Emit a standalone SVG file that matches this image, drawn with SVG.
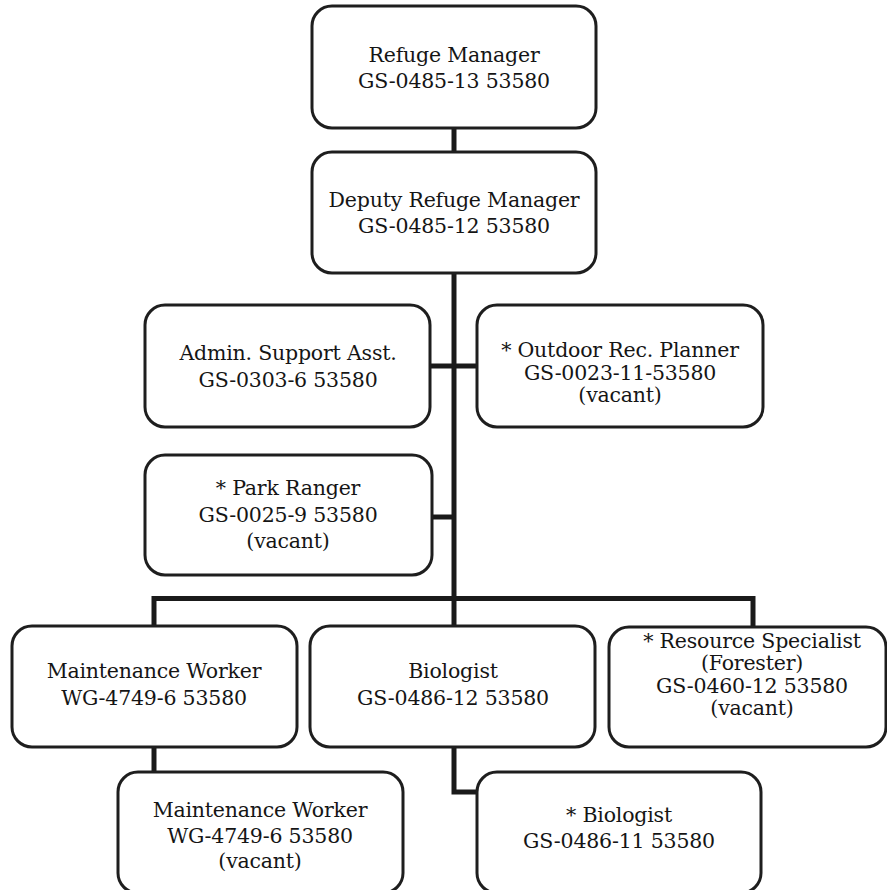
<svg xmlns="http://www.w3.org/2000/svg" width="887" height="890" viewBox="0 0 887 890">
<style>
.box{fill:#fff;stroke:#1e1e1e;stroke-width:3}
.con{fill:none;stroke:#1a1a1a;stroke-width:5;stroke-linejoin:miter;stroke-linecap:butt}
text{font-family:"DejaVu Serif","Liberation Serif",serif;font-size:20.5px;fill:#151515;text-anchor:middle;letter-spacing:-0.2px}
</style>
<rect width="887" height="890" fill="#fff"/>
<g id="connectors">
<path class="con" d="M454,128 V792 H477"/>
<path class="con" d="M430,366 H477"/>
<path class="con" d="M432,517 H454"/>
<path class="con" d="M154,626 V598.5 H753 V627"/>
<path class="con" d="M154,747 V772"/>
</g>
<g id="refuge-manager">
<rect class="box" x="312" y="6" width="284" height="122" rx="20"/>
<text x="454" y="62">Refuge Manager</text>
<text x="454" y="88">GS-0485-13 53580</text>
</g>
<g id="deputy-refuge-manager">
<rect class="box" x="312" y="152" width="284" height="121" rx="20"/>
<text x="454" y="207">Deputy Refuge Manager</text>
<text x="454" y="233">GS-0485-12 53580</text>
</g>
<g id="admin-support-asst">
<rect class="box" x="145" y="305" width="285" height="122" rx="20"/>
<text x="288" y="360">Admin. Support Asst.</text>
<text x="288" y="387">GS-0303-6 53580</text>
</g>
<g id="outdoor-rec-planner">
<rect class="box" x="477" y="305" width="286" height="122" rx="20"/>
<text x="620" y="357">* Outdoor Rec. Planner</text>
<text x="620" y="380">GS-0023-11-53580</text>
<text x="620" y="402">(vacant)</text>
</g>
<g id="park-ranger">
<rect class="box" x="145" y="455" width="287" height="120" rx="20"/>
<text x="288" y="495">* Park Ranger</text>
<text x="288" y="522">GS-0025-9 53580</text>
<text x="288" y="548">(vacant)</text>
</g>
<g id="maintenance-worker">
<rect class="box" x="12" y="626" width="285" height="121" rx="20"/>
<text x="154" y="678">Maintenance Worker</text>
<text x="154" y="705">WG-4749-6 53580</text>
</g>
<g id="biologist">
<rect class="box" x="310" y="626" width="285" height="121" rx="20"/>
<text x="453" y="678">Biologist</text>
<text x="453" y="705">GS-0486-12 53580</text>
</g>
<g id="resource-specialist">
<rect class="box" x="609" y="627" width="277" height="120" rx="20"/>
<text x="752" y="648">* Resource Specialist</text>
<text x="752" y="670">(Forester)</text>
<text x="752" y="693">GS-0460-12 53580</text>
<text x="752" y="715">(vacant)</text>
</g>
<g id="maintenance-worker-vacant">
<rect class="box" x="118" y="772" width="285" height="121" rx="20"/>
<text x="260" y="817">Maintenance Worker</text>
<text x="260" y="843">WG-4749-6 53580</text>
<text x="260" y="868">(vacant)</text>
</g>
<g id="biologist-2">
<rect class="box" x="477" y="772" width="284" height="121" rx="20"/>
<text x="619" y="822">* Biologist</text>
<text x="619" y="848">GS-0486-11 53580</text>
</g>
</svg>
